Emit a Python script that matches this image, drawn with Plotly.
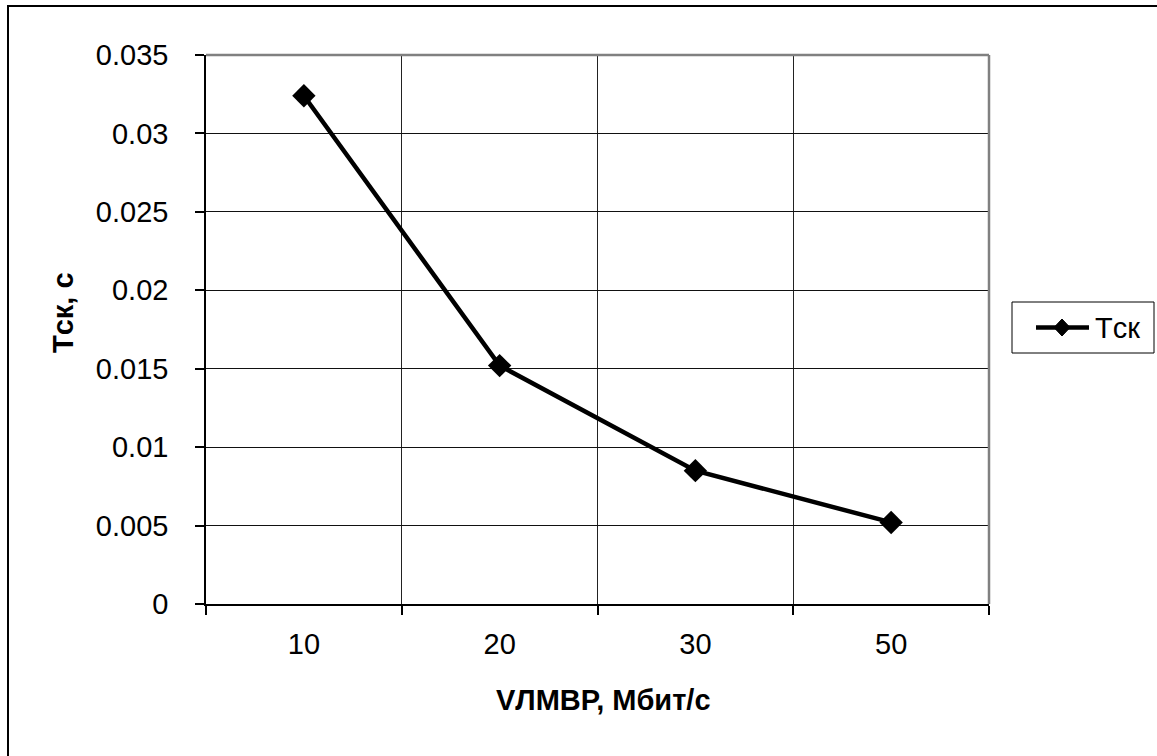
import plotly.graph_objects as go

categories = ["10", "20", "30", "50"]
tsk_values = [0.0324, 0.0152, 0.0085, 0.0052]
y_tick_values = [0, 0.005, 0.01, 0.015, 0.02, 0.025, 0.03, 0.035]
y_tick_labels = ["0", "0.005", "0.01", "0.015", "0.02", "0.025", "0.03", "0.035"]
series_name = "Tск"
x_title = "VЛМВР, Мбит/с"
y_title = "Tск, с"

W, H = 1157, 756
L, R, T, B = 206, 168, 55, 152
pw = W - L - R
ph = H - T - B


def px_x(p):
    return (p - L) / pw


def px_y(p):
    return (H - B - p) / ph


fig = go.Figure()
fig.add_trace(go.Scatter(
    x=categories, y=tsk_values, mode="lines+markers", name=series_name,
    line=dict(color="black", width=4.5),
    marker=dict(symbol="diamond", size=18, color="black"),
    showlegend=False,
))

fig.update_layout(
    width=W, height=H,
    margin=dict(l=L, r=R, t=T, b=B, autoexpand=False),
    paper_bgcolor="white", plot_bgcolor="white",
    font=dict(family="Liberation Sans, Arial, sans-serif", size=29, color="black"),
    showlegend=False,
)
fig.update_xaxes(
    type="category", tickson="boundaries", range=[-0.5, 3.5],
    showgrid=True, gridcolor="#222", gridwidth=1,
    showline=True, linecolor="black", linewidth=1.5,
    ticks="outside", ticklen=9, tickcolor="black", tickwidth=1.5,
    ticklabelstandoff=13, zeroline=False,
)
fig.update_yaxes(
    range=[0, 0.035], tickvals=y_tick_values, ticktext=y_tick_labels,
    showgrid=True, gridcolor="#111", gridwidth=1,
    showline=True, linecolor="black", linewidth=1.5,
    ticks="outside", ticklen=9, tickcolor="black", tickwidth=1.5,
    ticklabelstandoff=21, zeroline=False,
)

# plot-area border (top/right, grey)
fig.add_shape(type="line", xref="paper", yref="paper", x0=0, x1=1, y0=1, y1=1,
              line=dict(color="#808080", width=2.5), layer="above")
fig.add_shape(type="line", xref="paper", yref="paper", x0=1, x1=1, y0=0, y1=1,
              line=dict(color="#808080", width=2.5), layer="above")
# chart-area frame
fig.add_shape(type="rect", xref="paper", yref="paper",
              x0=px_x(8), x1=1.4, y0=-1.0, y1=px_y(6),
              line=dict(color="black", width=2), layer="above")

# legend (Excel style: box, line with diamond, label)
ly = 327.5
fig.add_shape(type="rect", xref="paper", yref="paper",
              x0=px_x(1012), x1=px_x(1154), y0=px_y(353), y1=px_y(302),
              line=dict(color="black", width=1), fillcolor="white", layer="above")
fig.add_shape(type="line", xref="paper", yref="paper",
              x0=px_x(1036), x1=px_x(1089), y0=px_y(ly), y1=px_y(ly),
              line=dict(color="black", width=4.5), layer="above")
dx, dy = 8, 8.5
cx = 1062
fig.add_shape(type="path", xref="paper", yref="paper",
              path=(f"M {px_x(cx)} {px_y(ly - dy)} L {px_x(cx + dx)} {px_y(ly)} "
                    f"L {px_x(cx)} {px_y(ly + dy)} L {px_x(cx - dx)} {px_y(ly)} Z"),
              line=dict(color="black", width=1), fillcolor="black", layer="above")
fig.add_annotation(text=series_name, xref="paper", yref="paper",
                   x=px_x(1093), y=px_y(ly), showarrow=False,
                   xanchor="left", yanchor="middle", font=dict(size=29))

fig.add_annotation(text="<b>" + x_title + "</b>", xref="paper", yref="paper",
                   x=px_x(603.5), y=px_y(700), showarrow=False,
                   xanchor="center", yanchor="middle", font=dict(size=29))
fig.add_annotation(text="<b>" + y_title + "</b>", xref="paper", yref="paper",
                   x=px_x(63), y=px_y(313), showarrow=False, textangle=-90,
                   xanchor="center", yanchor="middle", font=dict(size=29))

fig.write_html("out.html")
